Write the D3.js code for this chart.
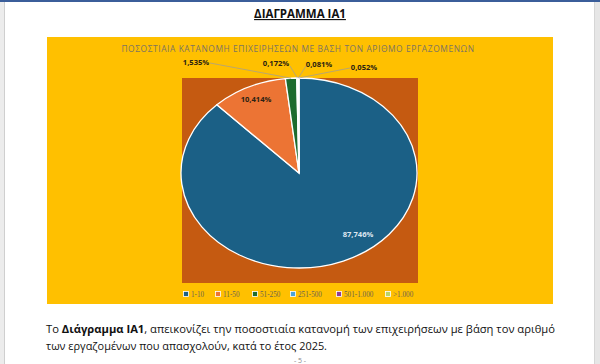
<!DOCTYPE html>
<html>
<head>
<meta charset="utf-8">
<script src="https://cdn.jsdelivr.net/npm/d3@7"></script>
<style>
  body { margin: 0; background: #fff; }
  svg { display: block; font-family: "Open Sans", sans-serif; }
</style>
</head>
<body>
<div id="wrapper"></div>
<script>
// data
const categories = ["1-10", "11-50", "51-250", "251-500", "501-1.000", ">1.000"]
const shares = [87.746, 10.414, 1.535, 0.172, 0.081, 0.052]
const labelTexts = ["87,746%", "10,414%", "1,535%", "0,172%", "0,081%", "0,052%"]
const colors = ["#1b6086", "#ec7434", "#1d6b2e", "#4aa3d9", "#8e3d96", "#b9d36a"]

// layout for the labels (inside / outside with leader line)
const labelLayout = [
  {x: 358, y: 237, fill: "#dce6f0", inside: true},
  {x: 256, y: 102, fill: "#2b2213", inside: true},
  {x: 196, y: 65, fill: "#2b2213", lx: 210, ly: 63},
  {x: 276, y: 66, fill: "#2b2213", lx: 290, ly: 66},
  {x: 319, y: 67, fill: "#2b2213", lx: 306, ly: 66},
  {x: 364, y: 70, fill: "#2b2213", lx: 350, ly: 68},
]

const width = 600
const height = 364

const svg = d3.select("#wrapper").append("svg")
  .attr("width", width)
  .attr("height", height)

// page frame
svg.append("rect").attr("x", 0).attr("y", 0).attr("width", 4).attr("height", height).attr("fill", "#ececec")
svg.append("rect").attr("x", 595).attr("y", 0).attr("width", 5).attr("height", height).attr("fill", "#e6e6e6")
svg.append("line").attr("x1", 4.5).attr("x2", 4.5).attr("y1", 0).attr("y2", height).attr("stroke", "#cfcfcf")
svg.append("line").attr("x1", 594.5).attr("x2", 594.5).attr("y1", 0).attr("y2", height).attr("stroke", "#d6d6d6")
svg.append("rect").attr("x", 0).attr("y", 0).attr("width", width).attr("height", 2).attr("fill", "#3b5e9a")

// heading
svg.append("text")
  .attr("x", 300).attr("y", 18)
  .attr("text-anchor", "middle")
  .attr("font-size", 11.5)
  .attr("font-weight", "bold")
  .attr("text-decoration", "underline")
  .attr("fill", "#111")
  .text("ΔΙΑΓΡΑΜΜΑ ΙΑ1")

// chart area
const chart = {x: 47, y: 37, w: 506, h: 267}
const plot = {x: 182, y: 78, w: 236, h: 205}

svg.append("rect")
  .attr("x", chart.x).attr("y", chart.y)
  .attr("width", chart.w).attr("height", chart.h)
  .attr("fill", "#ffc000")

svg.append("rect")
  .attr("x", plot.x).attr("y", plot.y)
  .attr("width", plot.w).attr("height", plot.h)
  .attr("fill", "#c55a11")

svg.append("text")
  .attr("x", 298).attr("y", 52)
  .attr("text-anchor", "middle")
  .attr("font-size", 8.4)
  .attr("letter-spacing", 0.6)
  .attr("fill", "#7d7462")
  .text("ΠΟΣΟΣΤΙΑΙΑ ΚΑΤΑΝΟΜΗ ΕΠΙΧΕΙΡΗΣΕΩΝ ΜΕ ΒΑΣΗ ΤΟΝ ΑΡΙΘΜΟ ΕΡΓΑΖΟΜΕΝΩΝ")

// pie (stretched horizontally like the original)
const cx = 299, cy = 173, rx = 118, ry = 95

const pie = d3.pie().sort(null).value(d => d)
const arcs = pie(shares)
const arc = d3.arc().innerRadius(0).outerRadius(ry)

const pieGroup = svg.append("g")
  .attr("transform", `translate(${cx},${cy}) scale(${rx / ry},1)`)

pieGroup.selectAll("path")
  .data(arcs)
  .enter().append("path")
    .attr("d", arc)
    .attr("fill", (d, i) => colors[i])
    .attr("stroke", "#fff")
    .attr("stroke-width", 1.3)
    .attr("vector-effect", "non-scaling-stroke")

// point on the ellipse edge for an angle
const edgePoint = a => [cx + rx * Math.sin(a), cy - ry * Math.cos(a)]

// leader lines
arcs.forEach((d, i) => {
  const l = labelLayout[i]
  if (l.inside) return
  const [ex, ey] = edgePoint((d.startAngle + d.endAngle) / 2)
  svg.append("line")
    .attr("x1", l.lx).attr("y1", l.ly)
    .attr("x2", ex).attr("y2", ey)
    .attr("stroke", "#a8a08a")
    .attr("stroke-width", 0.8)
})

svg.selectAll(".pie-label")
  .data(labelTexts)
  .enter().append("text")
    .attr("class", "pie-label")
    .attr("x", (d, i) => labelLayout[i].x)
    .attr("y", (d, i) => labelLayout[i].y)
    .attr("text-anchor", "middle")
    .attr("font-size", 7.6)
    .attr("font-weight", "bold")
    .attr("fill", (d, i) => labelLayout[i].fill)
    .text(d => d)

// legend
const legendOffsets = [0, 32, 69, 107, 153, 202]
const legend = svg.selectAll(".legend-item")
  .data(categories)
  .enter().append("g")
    .attr("class", "legend-item")
    .attr("transform", (d, i) => `translate(${186 + legendOffsets[i]},294)`)

legend.append("rect")
  .attr("x", -2.5).attr("y", -2.5)
  .attr("width", 5).attr("height", 5)
  .attr("fill", (d, i) => colors[i])
  .attr("stroke", "#fff")
  .attr("stroke-width", 0.8)

legend.append("text")
  .attr("x", 5).attr("y", 2.6)
  .attr("font-size", 7.2)
  .attr("font-family", "Liberation Serif, serif")
  .attr("fill", "#6b6350")
  .text(d => d)

// body text
const body = svg.append("text")
  .attr("x", 46).attr("y", 333)
  .attr("font-size", 11.3)
  .attr("fill", "#111")
  .attr("textLength", 509)
  .attr("lengthAdjust", "spacingAndGlyphs")
body.append("tspan").text("Το ")
body.append("tspan").attr("font-weight", "bold").text("Διάγραμμα ΙΑ1")
body.append("tspan").text(", απεικονίζει την ποσοστιαία κατανομή των επιχειρήσεων με βάση τον αριθμό")

svg.append("text")
  .attr("x", 46).attr("y", 350)
  .attr("font-size", 11.3)
  .attr("fill", "#111")
  .attr("textLength", 281)
  .attr("lengthAdjust", "spacingAndGlyphs")
  .text("των εργαζομένων που απασχολούν, κατά το έτος 2025.")

svg.append("text")
  .attr("x", 300).attr("y", 363)
  .attr("text-anchor", "middle")
  .attr("font-size", 7)
  .attr("fill", "#888")
  .text("- 5 -")
</script>
</body>
</html>
